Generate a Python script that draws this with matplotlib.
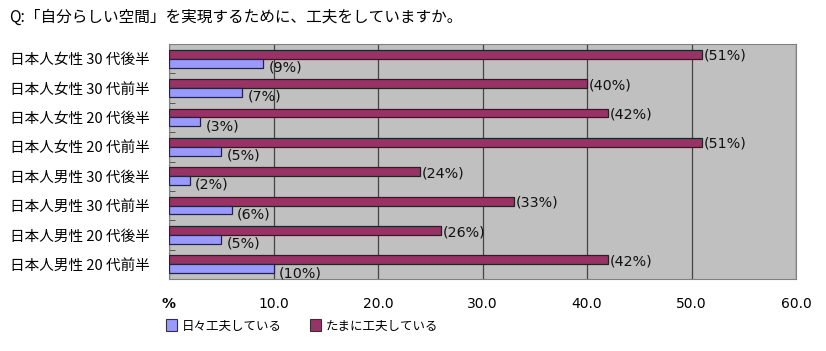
import matplotlib
matplotlib.use("Agg")
import matplotlib.pyplot as plt
from matplotlib.patches import Patch
import numpy as np

plt.rcParams['font.family'] = ['Noto Sans CJK JP', 'DejaVu Sans']

title = "Q:「自分らしい空間」を実現するために、工夫をしていますか。"
categories = ["日本人女性 30 代後半", "日本人女性 30 代前半", "日本人女性 20 代後半", "日本人女性 20 代前半",
              "日本人男性 30 代後半", "日本人男性 30 代前半", "日本人男性 20 代後半", "日本人男性 20 代前半"]
daily = [9, 7, 3, 5, 2, 6, 5, 10]
sometimes = [51, 40, 42, 51, 24, 33, 26, 42]
series_names = ["日々工夫している", "たまに工夫している"]
xticks = [0, 10, 20, 30, 40, 50, 60]
xticklabels = ["%", "10.0", "20.0", "30.0", "40.0", "50.0", "60.0"]

W, H = 826, 351
fig = plt.figure(figsize=(W / 100, H / 100), dpi=100)
ax = fig.add_axes([169 / W, 1 - 279 / H, (796 - 169) / W, (279 - 44) / H])

c_daily = "#9999FF"
c_some = "#993366"
y = np.arange(len(categories))
h = 0.3
ax.barh(y - 0.15, sometimes, height=h, color=c_some, edgecolor="#222222", linewidth=0.9, zorder=3)
ax.barh(y + 0.15, daily, height=h, color=c_daily, edgecolor="#222244", linewidth=0.9, zorder=3)

for yi, v in zip(y, sometimes):
    ax.text(v + 0.2, yi - 0.1, f"({v}%)", va="center", ha="left", fontsize=10.3,
            family="DejaVu Sans", color="#111111", zorder=4)
for yi, v in zip(y, daily):
    ax.text(v + 0.5, yi + 0.3, f"({v}%)", va="center", ha="left", fontsize=10.3,
            family="DejaVu Sans", color="#111111", zorder=4)

ax.set_xlim(0, 60)
ax.set_ylim(len(categories) - 0.5, -0.5)
ax.set_facecolor("#C0C0C0")
ax.set_xticks(xticks)
ax.set_xticklabels(xticklabels, family="DejaVu Sans", fontsize=10)
ax.get_xticklabels()[0].set_fontweight("bold")
ax.tick_params(axis="x", length=0, pad=13)
ax.grid(axis="x", color="#444444", linewidth=0.9, zorder=1)
ax.set_axisbelow(True)

ax.set_yticks(y)
ax.set_yticklabels(categories, fontsize=10.5)
ax.tick_params(axis="y", which="major", length=0, pad=13.5)
ax.set_yticks(np.arange(len(categories) + 1) - 0.5, minor=True)
ax.tick_params(axis="y", which="minor", direction="in", length=4, color="#444444")

for s in ax.spines.values():
    s.set_color("#808080")
    s.set_linewidth(0.8)

fig.text(9 / W, 1 - 17 / H, title, fontsize=11.25, va="center", ha="left")

handles = [Patch(facecolor=c_daily, edgecolor="#333333", linewidth=0.8),
           Patch(facecolor=c_some, edgecolor="#333333", linewidth=0.8)]
fig.legend(handles, series_names, loc="center left", bbox_to_anchor=(166 / W, 1 - 326 / H),
           ncol=2, frameon=False, fontsize=9, handlelength=0.85, handleheight=1.1,
           handletextpad=0.4, columnspacing=2.3, borderpad=0, borderaxespad=0)

fig.savefig("out.png", dpi=100)
